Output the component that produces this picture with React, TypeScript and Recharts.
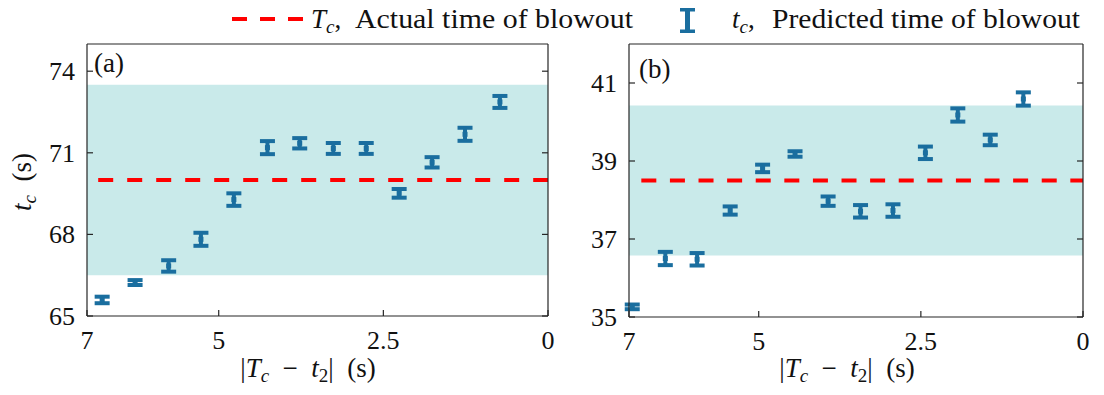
import React from 'react';
import {
    ScatterChart,
    Scatter,
    XAxis,
    YAxis,
    ErrorBar,
    ReferenceArea,
    ReferenceLine,
} from 'recharts';

// |Tc - t2| (s) for each prediction
const gapA = [6.77, 6.27, 5.76, 5.27, 4.77, 4.26, 3.77, 3.26, 2.76, 2.26, 1.76, 1.26, 0.73];
const gapB = [6.95, 6.44, 5.95, 5.44, 4.94, 4.44, 3.93, 3.43, 2.93, 2.43, 1.93, 1.43, 0.92];

// predicted time of blowout tc (s) and its error
const tcA = [65.59, 66.23, 66.84, 67.82, 69.28, 71.19, 71.35, 71.16, 71.16, 69.51, 70.65, 71.68, 72.87];
const errA = [0.12, 0.09, 0.21, 0.24, 0.23, 0.24, 0.19, 0.2, 0.2, 0.16, 0.19, 0.24, 0.22];
const tcB = [35.26, 36.5, 36.48, 37.73, 38.81, 39.18, 37.97, 37.71, 37.73, 39.21, 40.18, 39.54, 40.59];
const errB = [0.06, 0.17, 0.16, 0.105, 0.096, 0.07, 0.12, 0.16, 0.16, 0.16, 0.17, 0.135, 0.17];

// actual time of blowout Tc (s) and tolerance band
const actualA = 70;
const actualB = 38.5;
const tolerance = 0.05;

const xTicks = [7, 5, 2.5, 0];
const yTicksA = [65, 68, 71, 74];
const yTicksB = [35, 37, 39, 41];

const FONT = 'Liberation Serif, Times New Roman, Times, DejaVu Serif, Noto Serif, serif';
const BLUE = '#1a6e9f';
const BAND = '#c9eaea';
const RED = '#ff0000';
const AXIS = '#262626';
const TXT = '#111';
const TICK_LEN = 6;
const TICK_FONT = 26;
const LABEL_FONT = 27;

const BottomTick = (p: any) => (
    <g>
        <line x1={p.x} x2={p.x} y1={p.y} y2={p.y - TICK_LEN} stroke={AXIS} strokeWidth={1.2} />
        <text x={p.x} y={p.y + 33} textAnchor="middle" fontSize={TICK_FONT} fontFamily={FONT} fill={TXT}>
            {p.payload.value}
        </text>
    </g>
);

const TopTick = (p: any) => (
    <line x1={p.x} x2={p.x} y1={p.y} y2={p.y + TICK_LEN} stroke={AXIS} strokeWidth={1.2} />
);

const LeftTick = (p: any) => (
    <g>
        <line x1={p.x} x2={p.x + TICK_LEN} y1={p.y} y2={p.y} stroke={AXIS} strokeWidth={1.2} />
        <text x={p.x - 12} y={p.y + 9} textAnchor="end" fontSize={TICK_FONT} fontFamily={FONT} fill={TXT}>
            {p.payload.value}
        </text>
    </g>
);

const RightTick = (p: any) => (
    <line x1={p.x} x2={p.x - TICK_LEN} y1={p.y} y2={p.y} stroke={AXIS} strokeWidth={1.2} />
);

const Marker = (p: any) => (
    <rect x={p.cx - 2.5} y={p.cy - 2.5} width={5} height={5} fill={BLUE} />
);

interface PanelProps {
    gaps: number[];
    values: number[];
    errors: number[];
    actual: number;
    yDomain: [number, number];
    yTicks: number[];
    width: number;
    margin: { top: number; right: number; bottom: number; left: number };
    dash: string;
    dashStart: number;
}

const Panel: React.FC<PanelProps> = ({ gaps, values, errors, actual, yDomain, yTicks, width, margin, dash, dashStart }) => {
    const data = gaps.map((g, i) => ({ x: g, y: values[i], err: errors[i] }));
    const axisLine = { stroke: AXIS, strokeWidth: 1.2 };
    return (
        <ScatterChart width={width} height={395} margin={margin}>
            <ReferenceArea
                y1={actual * (1 - tolerance)}
                y2={actual * (1 + tolerance)}
                fill={BAND}
                fillOpacity={1}
                stroke="none"
            />
            <XAxis
                type="number"
                dataKey="x"
                domain={[0, 7]}
                reversed
                ticks={xTicks}
                interval={0}
                height={1}
                tickSize={0}
                tickMargin={0}
                tickLine={false}
                tick={<BottomTick />}
                axisLine={axisLine}
                allowDataOverflow
            />
            <XAxis
                xAxisId="top"
                orientation="top"
                type="number"
                domain={[0, 7]}
                reversed
                ticks={xTicks}
                interval={0}
                height={1}
                tickSize={0}
                tickMargin={0}
                tickLine={false}
                tick={<TopTick />}
                axisLine={axisLine}
                allowDataOverflow
            />
            <YAxis
                type="number"
                dataKey="y"
                domain={yDomain}
                ticks={yTicks}
                interval={0}
                width={1}
                tickSize={0}
                tickMargin={0}
                tickLine={false}
                tick={<LeftTick />}
                axisLine={axisLine}
                allowDataOverflow
            />
            <YAxis
                yAxisId="right"
                orientation="right"
                type="number"
                domain={yDomain}
                ticks={yTicks}
                interval={0}
                width={1}
                tickSize={0}
                tickMargin={0}
                tickLine={false}
                tick={<RightTick />}
                axisLine={axisLine}
                allowDataOverflow
            />
            <ReferenceLine
                segment={[{ x: dashStart, y: actual }, { x: 0, y: actual }]}
                stroke={RED}
                strokeWidth={4}
                strokeDasharray={dash}
            />
            <Scatter data={data} fill={BLUE} shape={<Marker />} isAnimationActive={false}>
                <ErrorBar dataKey="err" direction="y" width={7.5} stroke={BLUE} strokeWidth={4} isAnimationActive={false} />
            </Scatter>
        </ScatterChart>
    );
};

const Sub = ({ children, italic = true }: { children: React.ReactNode; italic?: boolean }) => (
    <tspan fontSize={19} dy={5} fontStyle={italic ? 'italic' : 'normal'}>{children}</tspan>
);

const XLabel = ({ cx }: { cx: number }) => (
    <text x={cx} y={377} textAnchor="middle" fontSize={LABEL_FONT} fontFamily={FONT} fill={TXT}>
        <tspan>|</tspan>
        <tspan fontStyle="italic">T</tspan>
        <Sub>c</Sub>
        <tspan dy={-5}>{'\u2002\u2212\u2002'}</tspan>
        <tspan fontStyle="italic">t</tspan>
        <Sub italic={false}>2</Sub>
        <tspan dy={-5}>{'|\u2002(s)'}</tspan>
    </text>
);

const Overlay = () => (
    <svg width={1104} height={395} style={{ position: 'absolute', left: 0, top: 0, pointerEvents: 'none' }}>
        {/* legend */}
        <line x1={232} x2={303} y1={19} y2={19} stroke={RED} strokeWidth={4} strokeDasharray="15 13" />
        <text x={311} y={28} fontSize={LABEL_FONT} fontFamily={FONT} fill={TXT}>
            <tspan fontStyle="italic">T</tspan>
            <Sub>c</Sub>
            <tspan dy={-5}>,</tspan>
        </text>
        <text x={355} y={28} fontSize={LABEL_FONT} fontFamily={FONT} fill={TXT} textLength={278} lengthAdjust="spacingAndGlyphs">
            Actual time of blowout
        </text>
        <g fill={BLUE}>
            <rect x={680} y={8} width={15} height={3.5} />
            <rect x={680} y={29.5} width={15} height={3.5} />
            <rect x={685} y={10} width={5} height={21} />
        </g>
        <text x={732} y={28} fontSize={LABEL_FONT} fontFamily={FONT} fill={TXT}>
            <tspan fontStyle="italic">t</tspan>
            <Sub>c</Sub>
            <tspan dy={-5}>,</tspan>
        </text>
        <text x={772} y={28} fontSize={LABEL_FONT} fontFamily={FONT} fill={TXT} textLength={308} lengthAdjust="spacingAndGlyphs">
            Predicted time of blowout
        </text>

        {/* panel tags */}
        <text x={94} y={72} fontSize={LABEL_FONT} fontFamily={FONT} fill={TXT}>(a)</text>
        <text x={639} y={78} fontSize={LABEL_FONT} fontFamily={FONT} fill={TXT}>(b)</text>

        {/* axis titles */}
        <XLabel cx={308} />
        <XLabel cx={847} />
        <text transform="translate(31,182) rotate(-90)" textAnchor="middle" fontSize={LABEL_FONT} fontFamily={FONT} fill={TXT}>
            <tspan fontStyle="italic">t</tspan>
            <Sub>c</Sub>
            <tspan dy={-5}>{'\u2002(s)'}</tspan>
        </text>
    </svg>
);

export default function App() {
    return (
        <div style={{ position: 'absolute', left: 0, top: 0, width: 1104, height: 395, background: '#fff', overflow: 'hidden' }}>
            <div style={{ position: 'absolute', left: 0, top: 0 }}>
                <Panel
                    gaps={gapA}
                    values={tcA}
                    errors={errA}
                    actual={actualA}
                    yDomain={[65, 75]}
                    yTicks={yTicksA}
                    width={560}
                    margin={{ top: 43, right: 11, bottom: 78, left: 86 }}
                    dash="15 14"
                    dashStart={6.83}
                />
            </div>
            <div style={{ position: 'absolute', left: 560, top: 0 }}>
                <Panel
                    gaps={gapB}
                    values={tcB}
                    errors={errB}
                    actual={actualB}
                    yDomain={[35, 42]}
                    yTicks={yTicksB}
                    width={544}
                    margin={{ top: 43, right: 20, bottom: 77, left: 68 }}
                    dash="15 13.6"
                    dashStart={6.81}
                />
            </div>
            <Overlay />
        </div>
    );
}
